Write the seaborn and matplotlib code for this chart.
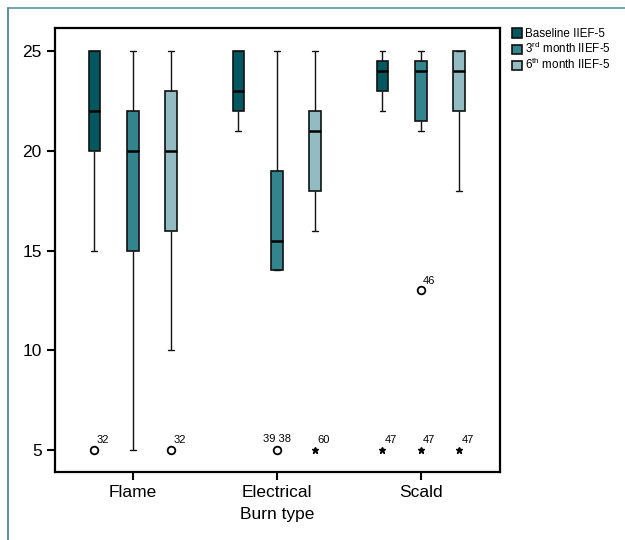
import matplotlib
matplotlib.use("Agg")
import matplotlib.pyplot as plt
import seaborn as sns
import pandas as pd
from matplotlib.lines import Line2D

# Summary of IIEF-5 scores per burn type and time point
burn_types = ["Flame", "Electrical", "Scald"]
time_points = ["Baseline IIEF-5", "3rd month IIEF-5", "6th month IIEF-5"]
legend_labels = ["Baseline IIEF-5", "3$^{rd}$ month IIEF-5", "6$^{th}$ month IIEF-5"]

# one entry per box, ordered burn type first, then time point
box_burn = ["Flame"] * 3 + ["Electrical"] * 3 + ["Scald"] * 3
box_time = time_points * 3
lower_whisker = [15, 5, 10, 21, 14, 16, 22, 21, 18]
q1 = [20, 15, 16, 22, 14, 18, 23, 21.5, 22]
median = [22, 20, 20, 23, 15.5, 21, 24, 24, 24]
q3 = [25, 22, 23, 25, 19, 22, 24.5, 24.5, 25]
upper_whisker = [25, 25, 25, 25, 25, 25, 25, 25, 25]

# outliers (o) and extremes (*) with SPSS case labels
out_burn = ["Flame", "Flame", "Electrical", "Electrical", "Scald", "Scald", "Scald", "Scald"]
out_time = [time_points[0], time_points[2], time_points[1], time_points[2],
            time_points[0], time_points[1], time_points[1], time_points[2]]
out_value = [5, 5, 5, 5, 5, 13, 5, 5]
out_kind = ["o", "o", "o", "*", "*", "o", "*", "*"]
out_label = ["32", "32", "39 38", "60", "47", "46", "47", "47"]

palette = ["#03585f", "#33848c", "#92bcc2"]

# five values per box reproduce the quartiles exactly with whiskers at min/max
rows = []
for b, t, lo, a, m, c, hi in zip(box_burn, box_time, lower_whisker, q1, median, q3, upper_whisker):
    for v in (lo, a, m, c, hi):
        rows.append({"Burn type": b, "Time": t, "IIEF-5": v})
df = pd.DataFrame(rows)

sns.set_theme(style="ticks")
plt.rcParams["font.family"] = ["Liberation Sans", "DejaVu Sans"]
plt.rcParams["mathtext.fontset"] = "custom"
plt.rcParams["mathtext.rm"] = "Liberation Sans"
plt.rcParams["mathtext.it"] = "Liberation Sans"
plt.rcParams["text.color"] = "black"
plt.rcParams["axes.labelcolor"] = "black"
plt.rcParams["xtick.color"] = "black"
plt.rcParams["ytick.color"] = "black"

fig = plt.figure(figsize=(6.25, 5.4), dpi=100)
ax = fig.add_axes([0.088, 0.126, 0.712, 0.822])

sns.boxplot(
    data=df, x="Burn type", y="IIEF-5", hue="Time",
    order=burn_types, hue_order=time_points, palette=palette,
    whis=(0, 100), width=0.8, gap=0.7, linecolor="#111111", linewidth=1.2,
    saturation=1, medianprops=dict(color="black", linewidth=1.8),
    whiskerprops=dict(linewidth=1.0), capprops=dict(linewidth=1.0),
    ax=ax,
)

# outliers drawn at the dodged positions of their boxes
step = 0.8 / len(time_points)
for b, t, v, k, lab in zip(out_burn, out_time, out_value, out_kind, out_label):
    x = burn_types.index(b) + (time_points.index(t) - 1) * step
    if k == "o":
        ax.plot(x, v, "o", ms=5.5, mfc="white", mec="black", mew=1.3, zorder=5)
    else:
        ax.plot(x, v, "*", ms=5, color="black", zorder=5)
    if " " in lab:
        ax.annotate(lab, (x, v), textcoords="offset points", xytext=(0, 4),
                    ha="center", va="bottom", fontsize=8)
    else:
        ax.annotate(lab, (x, v), textcoords="offset points", xytext=(1.5, 3.5),
                    ha="left", va="bottom", fontsize=8)

ax.set_ylim(3.9, 26.15)
ax.set_xlim(-0.54, 2.55)
ax.set_yticks([5, 10, 15, 20, 25])
ax.set_xlabel("Burn type", fontsize=12.5, labelpad=5)
ax.set_ylabel("")
ax.tick_params(axis="both", labelsize=12.5, width=1.5, length=6, color="black")
for s in ax.spines.values():
    s.set_linewidth(1.6)
    s.set_color("black")

handles, _ = ax.get_legend_handles_labels()
ax.legend(handles, legend_labels, loc="upper left", bbox_to_anchor=(1.027, 1.0),
          frameon=False, fontsize=8.4, handlelength=0.85, handleheight=0.85,
          handletextpad=0.3, labelspacing=0.08, borderaxespad=0, borderpad=0)

# frame lines along the top and left of the figure
fig.add_artist(Line2D([8 / 625, 1], [1 - 8 / 540, 1 - 8 / 540], color="#6a9ea3", lw=1.3))
fig.add_artist(Line2D([8 / 625, 8 / 625], [0, 1 - 8 / 540], color="#4e888e", lw=1.3))

fig.savefig("out.png", dpi=100)
